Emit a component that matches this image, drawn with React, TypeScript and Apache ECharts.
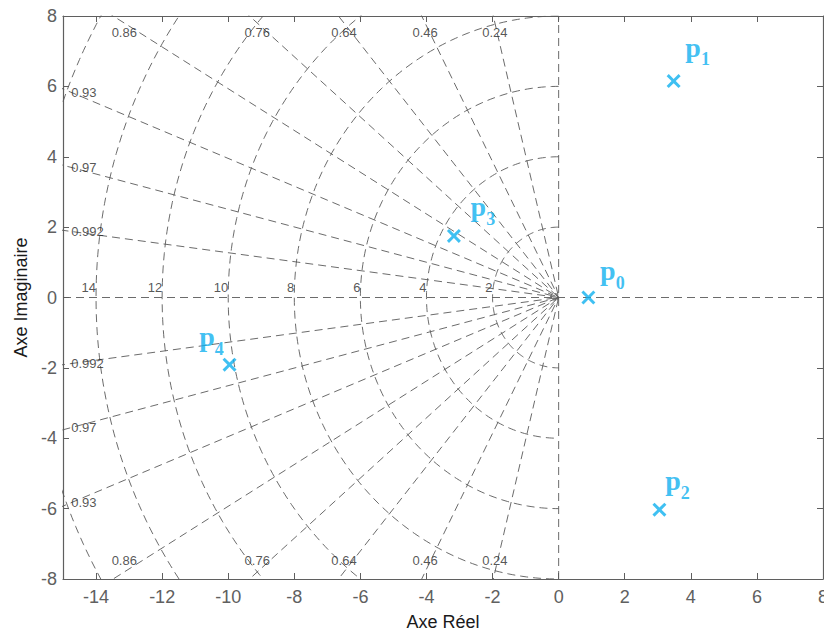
import React, { useEffect, useRef } from 'react';
import * as echarts from 'echarts';

// ---- data ----
const dampingRatios = [0.24, 0.46, 0.64, 0.76, 0.86, 0.93, 0.97, 0.992];
const naturalFreqs = [2, 4, 6, 8, 10, 12, 14, 16];
const poleIndex = ['0', '1', '2', '3', '4'];
const poleRe = [0.9, 3.48, 3.05, -3.17, -9.96];
const poleIm = [0, 6.15, -6.03, 1.75, -1.91];
const xTicks = [-14, -12, -10, -8, -6, -4, -2, 0, 2, 4, 6, 8];
const X_MIN = -15;
const X_MAX = 8;
const Y_MIN = -8;
const Y_MAX = 8;

// label placement (layout, not data)
const poleLabelOffsets = [[24, -26], [24, -33], [18, -28], [29, -28], [-18, -27]];

const GRID_COLOR = '#5a5a5a';
const AXIS_COLOR = '#5f5f5f';
const POLE_COLOR = '#0fb0ef';
const DASH = [8, 5];
const SANS = '"Liberation Sans", Arial, Helvetica, sans-serif';

export default function App() {
  const ref = useRef<HTMLDivElement>(null);

  useEffect(() => {
    document.body.style.margin = '0';
    if (!ref.current) return;
    const chart = echarts.init(ref.current, undefined, { renderer: 'svg' });

    const R = 60;
    const gridSeries: any[] = [];
    dampingRatios.forEach((z) => {
      const s = Math.sqrt(1 - z * z);
      gridSeries.push({
        type: 'line',
        data: [[-z * R, s * R], [0, 0], [-z * R, -s * R]],
        symbol: 'none',
        silent: true,
        lineStyle: { color: GRID_COLOR, width: 0.9, type: DASH },
        z: 1,
      });
    });
    naturalFreqs.forEach((wn) => {
      const pts: number[][] = [];
      for (let a = 90; a <= 270; a += 1) {
        const t = (a * Math.PI) / 180;
        pts.push([wn * Math.cos(t), wn * Math.sin(t)]);
      }
      gridSeries.push({
        type: 'line',
        data: pts,
        symbol: 'none',
        silent: true,
        lineStyle: { color: GRID_COLOR, width: 0.9, type: DASH },
        z: 1,
      });
    });
    // real and imaginary axis dashed lines
    gridSeries.push({
      type: 'line',
      data: [[X_MIN, 0], [X_MAX, 0]],
      symbol: 'none',
      silent: true,
      lineStyle: { color: GRID_COLOR, width: 0.9, type: DASH },
      z: 1,
    });
    gridSeries.push({
      type: 'line',
      data: [[0, Y_MIN], [0, Y_MAX]],
      symbol: 'none',
      silent: true,
      lineStyle: { color: GRID_COLOR, width: 0.9, type: DASH },
      z: 1,
    });

    // damping labels
    const topLabels: any[] = [];
    const leftLabels: any[] = [];
    dampingRatios.forEach((z) => {
      const s = Math.sqrt(1 - z * z);
      const ratio = z / s;
      if (ratio * Y_MAX < -X_MIN) {
        topLabels.push({ value: [-ratio * 7.8, 7.54], name: String(z) });
        topLabels.push({ value: [-ratio * 7.8, -7.48], name: String(z) });
      } else {
        const xl = X_MIN + 0.25;
        leftLabels.push({ value: [xl, (-xl * s) / z], name: String(z) });
        leftLabels.push({ value: [xl, (xl * s) / z], name: String(z) });
      }
    });
    const wnLabels = naturalFreqs
      .filter((wn) => -wn > X_MIN)
      .map((wn) => ({ value: [-wn, 0], name: String(wn) }));

    const smallLabel = {
      show: true,
      position: 'inside',
      formatter: (p: any) => p.name,
      fontFamily: SANS,
      fontSize: 13,
      color: '#2a2a2a',
    };

    const labelSeries = [
      {
        type: 'scatter',
        data: topLabels,
        symbolSize: 1,
        itemStyle: { color: 'transparent' },
        silent: true,
        label: { ...smallLabel, align: 'center', verticalAlign: 'middle' },
        z: 3,
      },
      {
        type: 'scatter',
        data: leftLabels,
        symbolSize: 1,
        itemStyle: { color: 'transparent' },
        silent: true,
        label: { ...smallLabel, align: 'left', verticalAlign: 'middle' },
        z: 3,
      },
      {
        type: 'scatter',
        data: wnLabels,
        symbolSize: 1,
        itemStyle: { color: 'transparent' },
        silent: true,
        label: { ...smallLabel, align: 'right', verticalAlign: 'middle', offset: [0, -10] },
        z: 3,
      },
    ];

    const crossPath =
      'path://M0,1.5L1.5,0L5,3.5L8.5,0L10,1.5L6.5,5L10,8.5L8.5,10L5,6.5L1.5,10L0,8.5L3.5,5Z';

    const serif = '"Liberation Serif", "Times New Roman", serif';
    const poleSeries = {
      type: 'scatter',
      symbol: crossPath,
      symbolSize: 14,
      itemStyle: { color: POLE_COLOR },
      z: 5,
      data: poleRe.map((re, i) => ({
        value: [re, poleIm[i]],
        name: poleIndex[i],
        label: {
          show: true,
          position: 'inside',
          offset: poleLabelOffsets[i],
          formatter: `{p|p}{s|${poleIndex[i]}}`,
          rich: {
            p: {
              fontFamily: serif,
              fontWeight: 'bold',
              fontSize: 28,
              color: POLE_COLOR,
              lineHeight: 26,
              verticalAlign: 'bottom',
            },
            s: {
              fontFamily: serif,
              fontWeight: 'bold',
              fontSize: 18,
              color: POLE_COLOR,
              lineHeight: 26,
              height: 4,
              verticalAlign: 'bottom',
            },
          },
        },
      })),
    };

    const axisCommon = {
      type: 'value',
      axisLine: { show: true, onZero: false, lineStyle: { color: AXIS_COLOR, width: 1.2 } },
      splitLine: { show: false },
    };

    chart.setOption({
      animation: false,
      grid: {
        left: 63,
        top: 16,
        right: 1,
        bottom: 56,
        containLabel: false,
        outerBoundsMode: 'none',
      },
      xAxis: [
        {
          ...axisCommon,
          position: 'bottom',
          min: X_MIN,
          max: X_MAX,
          axisTick: {
            show: true,
            inside: true,
            length: 6,
            customValues: xTicks,
            lineStyle: { color: AXIS_COLOR },
          },
          axisLabel: {
            customValues: xTicks,
            color: '#606060',
            fontFamily: SANS,
            fontSize: 18,
            margin: 9,
          },
          name: 'Axe Réel',
          nameLocation: 'middle',
          nameGap: 34,
          nameTextStyle: { color: '#1a1a1a', fontFamily: SANS, fontSize: 18 },
        },
        {
          ...axisCommon,
          position: 'top',
          min: X_MIN,
          max: X_MAX,
          axisTick: {
            show: true,
            inside: true,
            length: 6,
            customValues: xTicks,
            lineStyle: { color: AXIS_COLOR },
          },
          axisLabel: { show: false },
        },
      ],
      yAxis: [
        {
          ...axisCommon,
          position: 'left',
          min: Y_MIN,
          max: Y_MAX,
          interval: 2,
          axisTick: { show: true, inside: true, length: 6, lineStyle: { color: AXIS_COLOR } },
          axisLabel: {
            color: '#606060',
            fontFamily: SANS,
            fontSize: 18,
            margin: 6,
          },
          name: 'Axe Imaginaire',
          nameLocation: 'middle',
          nameGap: 32,
          nameTextStyle: { color: '#1a1a1a', fontFamily: SANS, fontSize: 18 },
        },
        {
          ...axisCommon,
          position: 'right',
          min: Y_MIN,
          max: Y_MAX,
          interval: 2,
          axisTick: { show: true, inside: true, length: 6, lineStyle: { color: AXIS_COLOR } },
          axisLabel: { show: false },
        },
      ],
      series: [...gridSeries, ...labelSeries, poleSeries],
    });

    return () => chart.dispose();
  }, []);

  return <div ref={ref} style={{ width: 824, height: 635 }} />;
}
